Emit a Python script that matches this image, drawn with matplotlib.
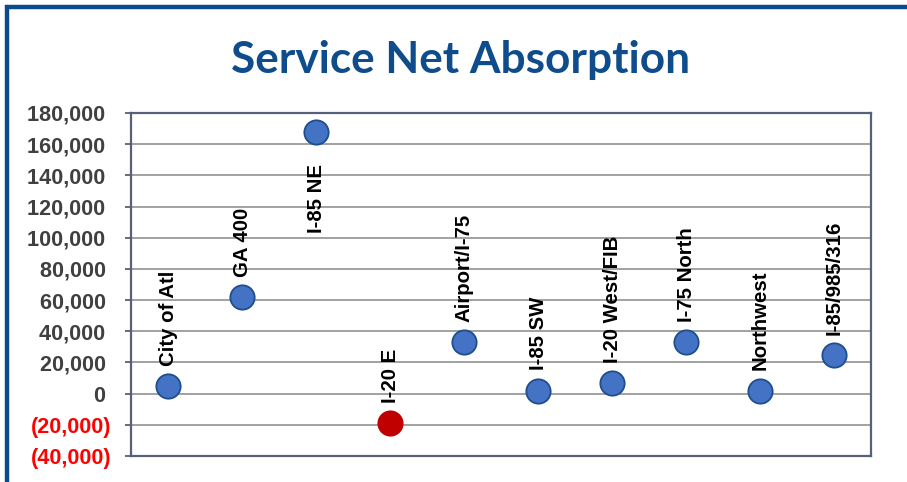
import matplotlib
matplotlib.use("Agg")
import matplotlib.pyplot as plt
import numpy as np
from matplotlib.ticker import FuncFormatter, MultipleLocator
from matplotlib.patches import Rectangle

# ---- data ----
categories = ["City of Atl", "GA 400", "I-85 NE", "I-20 E", "Airport/I-75",
              "I-85 SW", "I-20 West/FIB", "I-75 North", "Northwest", "I-85/985/316"]
values = [5000, 62000, 168000, -19000, 33000, 2000, 7000, 33000, 2000, 25000]
label_side = ["above", "above", "below", "above", "above",
              "above", "above", "above", "above", "above"]
title = "Service Net Absorption"
y_min, y_max, y_step = -40000, 180000, 20000

# ---- style ----
fig = plt.figure(figsize=(9.07, 4.82), dpi=100)
fig.patch.set_facecolor("white")

# partial dark blue frame (top and left edges)
frame = Rectangle((7 / 907, -0.1), 1.2, 1 - 7 / 482 + 0.1, transform=fig.transFigure,
                  fill=False, edgecolor="#0B4A8B", linewidth=3.2, zorder=0)
fig.patches.append(frame)

ax = fig.add_axes([131 / 907, 1 - 456 / 482, (871 - 131) / 907, (456 - 113) / 482])
n = len(categories)
x = np.arange(n) + 0.5
ax.set_xlim(0, n)
ax.set_ylim(y_min, y_max)
ax.yaxis.set_major_locator(MultipleLocator(y_step))

def fmt(v, pos):
    v = int(round(v))
    if v < 0:
        return "({:,})".format(-v)
    return "{:,} ".format(v)

ax.yaxis.set_major_formatter(FuncFormatter(fmt))
ax.grid(axis="y", color="#878787", linewidth=1.1, zorder=1)
ax.set_axisbelow(True)
ax.set_xticks([])
ax.tick_params(axis="y", length=4.5, width=1.3, color="#56607A", pad=9.5,
               labelsize=15.6)
for lbl, v in zip(ax.get_yticklabels(), ax.get_yticks()):
    lbl.set_fontweight("bold")
    lbl.set_fontfamily("Liberation Sans")
    lbl.set_color("#FF0000" if v < 0 else "#404040")

for sp in ax.spines.values():
    sp.set_color("#56607A")
    sp.set_linewidth(1.6)

for xi, v, name, side in zip(x, values, categories, label_side):
    face = "#C00000" if v < 0 else "#4472C4"
    edge = "#C00000" if v < 0 else "#1F4E8C"
    ax.plot([xi], [v], linestyle="none", marker="o", markersize=17.5,
            markerfacecolor=face, markeredgecolor=edge, markeredgewidth=1.3,
            zorder=3, clip_on=False)
    if side == "above":
        ax.annotate(name, (xi, v), xytext=(0, 14.5), textcoords="offset points",
                    rotation=90, ha="center", va="bottom", fontsize=14.7,
                    fontweight="bold", family="Liberation Sans", color="black",
                    zorder=4)
    else:
        ax.annotate(name, (xi, v), xytext=(0, -23), textcoords="offset points",
                    rotation=90, ha="center", va="top", fontsize=14.7,
                    fontweight="bold", family="Liberation Sans", color="black",
                    zorder=4)

fig.text(461 / 907, 1 - 73 / 482, title, ha="center", va="baseline",
         fontsize=31.8, fontweight="bold", family="Lato", color="#0F4C8C")

fig.savefig("out.png", dpi=100)
